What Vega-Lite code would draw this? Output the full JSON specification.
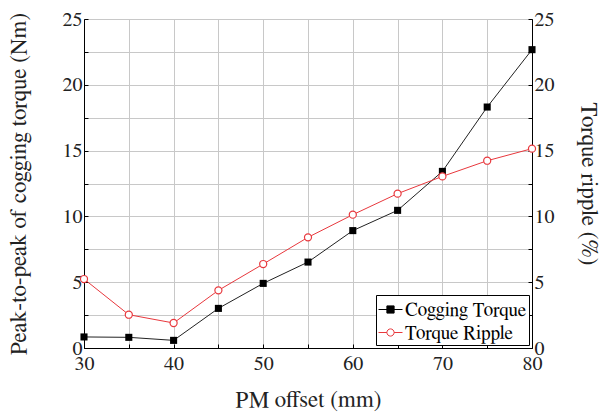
{
  "$schema": "https://vega.github.io/schema/vega-lite/v6.json",
  "width": 448,
  "height": 329,
  "autosize": {"type": "none"},
  "padding": {"left": 84, "top": 19, "right": 70, "bottom": 70},
  "config": {
    "font": "FreeSerif",
    "view": {"stroke": "#000", "strokeWidth": 1},
    "axis": {
      "labelFont": "FreeSerif",
      "titleFont": "FreeSerif",
      "labelFontSize": 20,
      "titleFontSize": 23,
      "titleFontWeight": "normal",
      "labelColor": "#222",
      "titleColor": "#222",
      "domainColor": "#000",
      "tickColor": "#000",
      "gridColor": "#c8c8c8",
      "tickSize": -4,
      "labelPadding": 6,
      "labelFlush": false
    },
    "legend": {
      "labelFont": "FreeSerif",
      "labelFontSize": 19,
      "labelColor": "#000"
    }
  },
  "data": {
    "values": [
      {"offset": 30, "series": "Cogging Torque", "value": 0.84},
      {"offset": 35, "series": "Cogging Torque", "value": 0.81},
      {"offset": 40, "series": "Cogging Torque", "value": 0.58},
      {"offset": 45, "series": "Cogging Torque", "value": 3.01},
      {"offset": 50, "series": "Cogging Torque", "value": 4.91},
      {"offset": 55, "series": "Cogging Torque", "value": 6.53},
      {"offset": 60, "series": "Cogging Torque", "value": 8.92},
      {"offset": 65, "series": "Cogging Torque", "value": 10.46},
      {"offset": 70, "series": "Cogging Torque", "value": 13.42},
      {"offset": 75, "series": "Cogging Torque", "value": 18.31},
      {"offset": 80, "series": "Cogging Torque", "value": 22.67},
      {"offset": 30, "series": "Torque Ripple", "value": 5.24},
      {"offset": 35, "series": "Torque Ripple", "value": 2.53},
      {"offset": 40, "series": "Torque Ripple", "value": 1.9},
      {"offset": 45, "series": "Torque Ripple", "value": 4.38},
      {"offset": 50, "series": "Torque Ripple", "value": 6.38},
      {"offset": 55, "series": "Torque Ripple", "value": 8.41},
      {"offset": 60, "series": "Torque Ripple", "value": 10.13},
      {"offset": 65, "series": "Torque Ripple", "value": 11.73},
      {"offset": 70, "series": "Torque Ripple", "value": 13.04},
      {"offset": 75, "series": "Torque Ripple", "value": 14.23},
      {"offset": 80, "series": "Torque Ripple", "value": 15.15}
    ]
  },
  "encoding": {
    "x": {
      "field": "offset",
      "type": "quantitative",
      "scale": {"domain": [30, 80], "nice": false},
      "axis": {
        "title": "PM offset (mm)",
        "values": [30, 35, 40, 45, 50, 55, 60, 65, 70, 75, 80],
        "labelExpr": "datum.value % 10 == 0 ? datum.label : ''",
        "labelPadding": 9,
        "titlePadding": 15,
        "grid": true
      }
    }
  },
  "layer": [
    {
      "transform": [{"filter": "datum.series === 'Cogging Torque'"}],
      "encoding": {
        "y": {
          "field": "value",
          "type": "quantitative",
          "scale": {"domain": [0, 25], "nice": false},
          "axis": {
            "title": "Peak-to-peak of cogging torque (Nm)",
            "values": [0, 2.5, 5, 7.5, 10, 12.5, 15, 17.5, 20, 22.5, 25],
            "labelExpr": "datum.value % 5 == 0 ? datum.label : ''",
            "titlePadding": 32,
            "grid": true
          }
        }
      },
      "layer": [
        {
          "mark": {"type": "line", "strokeWidth": 1, "color": "#222"},
          "encoding": {}
        },
        {
          "mark": {"type": "point", "shape": "square", "filled": true, "opacity": 1, "size": 50, "color": "#000"},
          "encoding": {}
        }
      ]
    },
    {
      "transform": [{"filter": "datum.series === 'Torque Ripple'"}],
      "encoding": {
        "y": {
          "field": "value",
          "type": "quantitative",
          "scale": {"domain": [0, 25], "nice": false},
          "axis": {
            "orient": "right",
            "title": "Torque ripple (%)",
            "values": [0, 2.5, 5, 7.5, 10, 12.5, 15, 17.5, 20, 22.5, 25],
            "labelExpr": "datum.value % 5 == 0 ? datum.label : ''",
            "titlePadding": 22,
            "grid": false
          }
        }
      },
      "layer": [
        {
          "mark": {"type": "line", "strokeWidth": 1, "color": "#e8383d"},
          "encoding": {}
        },
        {
          "mark": {"type": "point", "shape": "circle", "filled": false, "fill": "#fff", "opacity": 1, "size": 50, "strokeWidth": 1.2, "stroke": "#e8383d"},
          "encoding": {}
        }
      ]
    },
    {
      "mark": {"type": "point", "opacity": 0, "size": 1, "filled": false},
      "encoding": {
        "y": {"field": "value", "type": "quantitative", "scale": {"domain": [0, 25], "nice": false}, "axis": null},
        "shape": {
          "field": "series",
          "type": "nominal",
          "scale": {"domain": ["Cogging Torque", "Torque Ripple"], "range": ["M-1,0H1M-0.3,-0.3H0.3V0.3H-0.3Z", "M-1,0H-0.3M0.3,0H1M0.3,0A0.3,0.3,0,1,1,-0.3,0A0.3,0.3,0,1,1,0.3,0"]},
          "legend": {
            "title": null,
            "orient": "bottom-right",
            "offset": 3,
            "strokeColor": "#000",
            "fillColor": "#fff",
            "padding": 2,
            "rowPadding": 0,
            "symbolSize": 576,
            "symbolStrokeWidth": 1,
            "symbolOpacity": 1,
            "labelOffset": 2
          }
        },
        "stroke": {
          "field": "series",
          "type": "nominal",
          "scale": {"domain": ["Cogging Torque", "Torque Ripple"], "range": ["#000", "#e8383d"]},
          "legend": {
            "title": null,
            "orient": "bottom-right",
            "offset": 3,
            "strokeColor": "#000",
            "fillColor": "#fff",
            "padding": 2,
            "rowPadding": 0,
            "symbolSize": 576,
            "symbolStrokeWidth": 1,
            "symbolOpacity": 1,
            "labelOffset": 2
          }
        },
        "fill": {
          "field": "series",
          "type": "nominal",
          "scale": {"domain": ["Cogging Torque", "Torque Ripple"], "range": ["#000", "#fff"]},
          "legend": {
            "title": null,
            "orient": "bottom-right",
            "offset": 3,
            "strokeColor": "#000",
            "fillColor": "#fff",
            "padding": 2,
            "rowPadding": 0,
            "symbolSize": 576,
            "symbolStrokeWidth": 1,
            "symbolOpacity": 1,
            "labelOffset": 2
          }
        }
      }
    }
  ],
  "resolve": {"scale": {"y": "independent"}}
}
